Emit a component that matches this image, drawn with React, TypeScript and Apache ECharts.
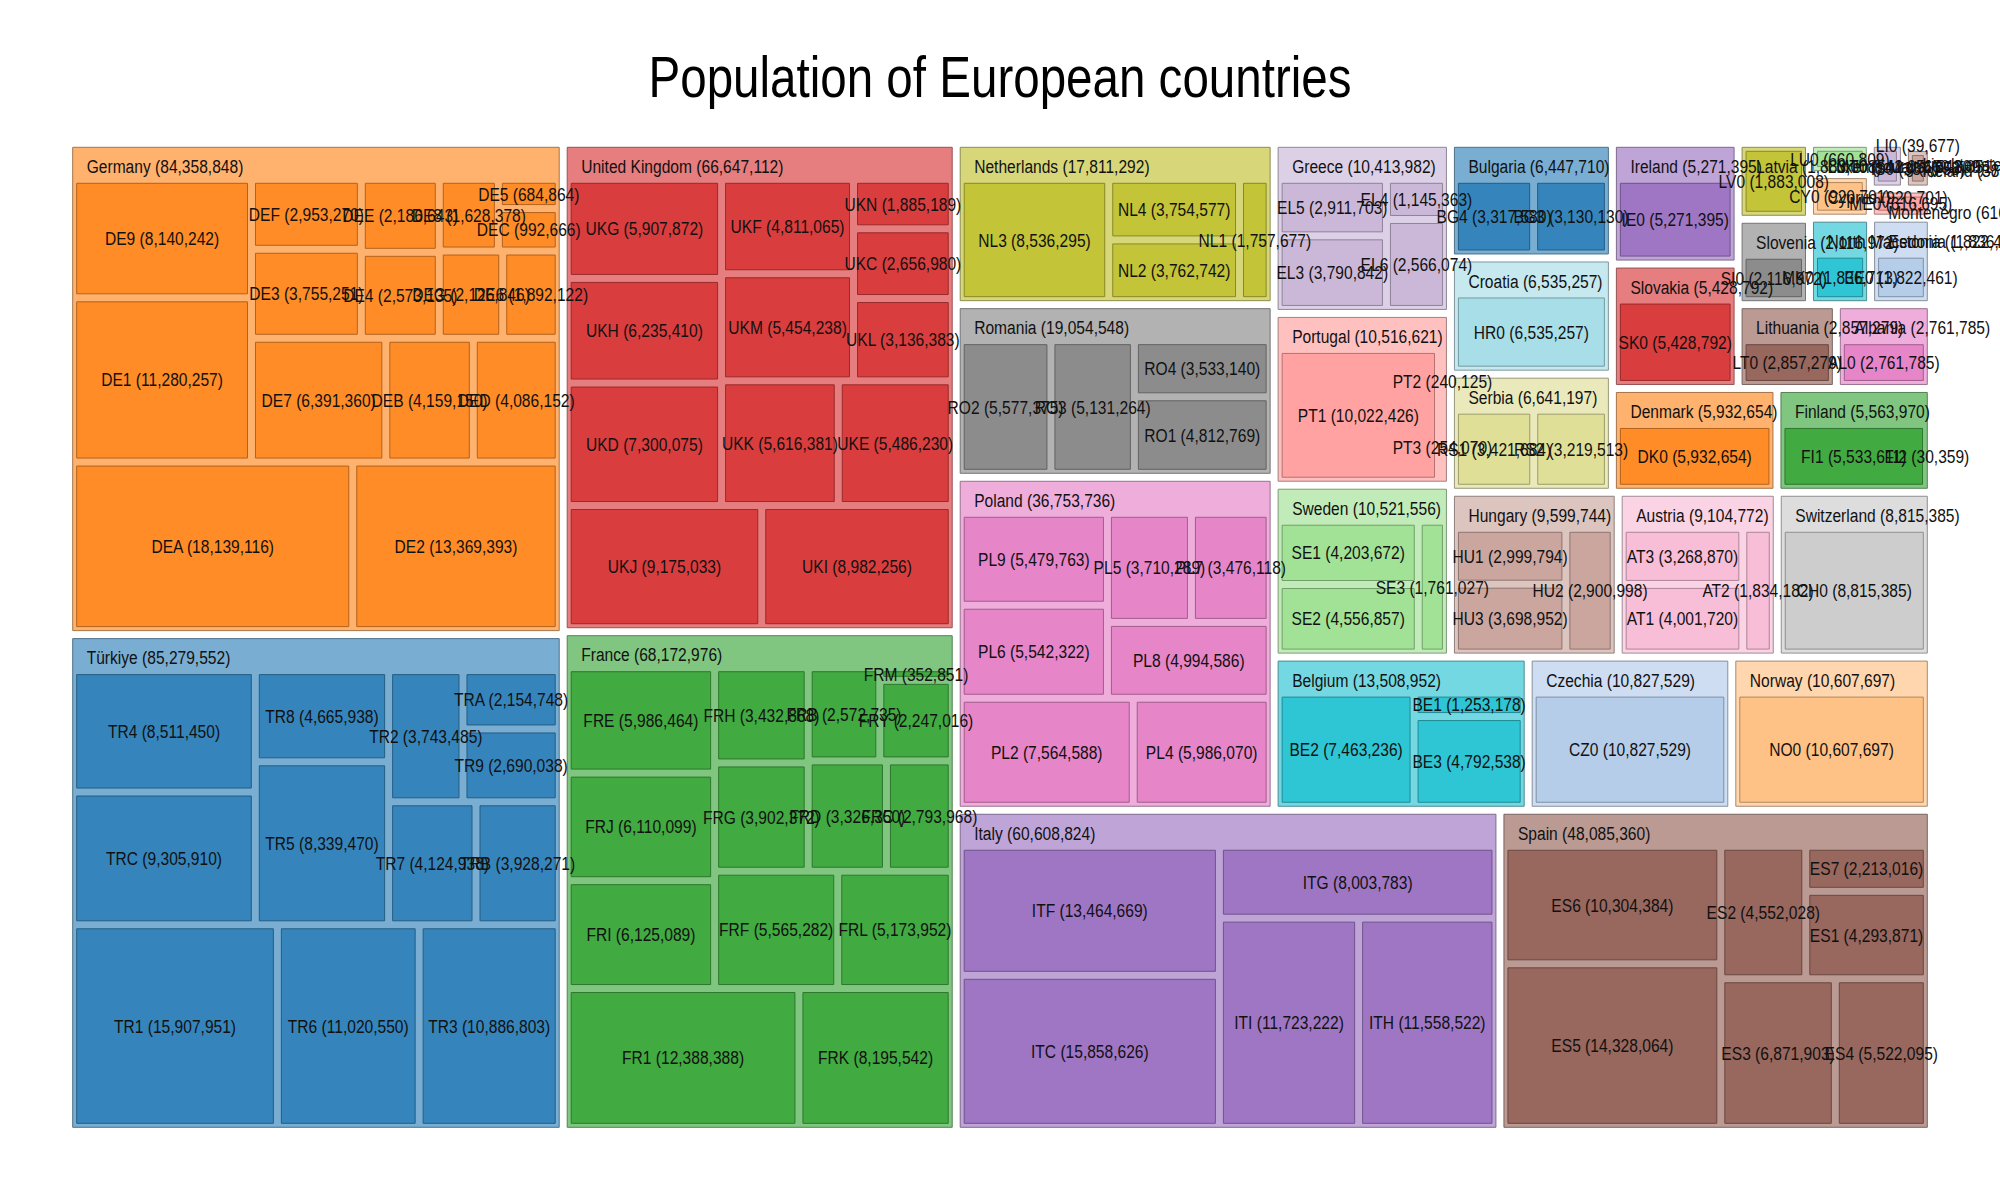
import React, { useEffect, useRef } from "react";
import * as echarts from "echarts";

// ---------------- DATA ----------------
const chartTitle = "Population of European countries";

const countryCodes = ["TR", "DE", "FR", "UK", "IT", "ES", "PL", "RO", "NL", "BE", "CZ", "NO", "SE", "PT", "EL", "HU", "AT", "CH", "RS", "HR", "BG", "DK", "FI", "SK", "IE", "LT", "AL", "SI", "LV", "MK", "EE", "CY", "LU", "ME", "MT", "IS", "LI"];
const countryNames = ["Türkiye", "Germany", "France", "United Kingdom", "Italy", "Spain", "Poland", "Romania", "Netherlands", "Belgium", "Czechia", "Norway", "Sweden", "Portugal", "Greece", "Hungary", "Austria", "Switzerland", "Serbia", "Croatia", "Bulgaria", "Denmark", "Finland", "Slovakia", "Ireland", "Lithuania", "Albania", "Slovenia", "Latvia", "North Macedonia", "Estonia", "Cyprus", "Luxembourg", "Montenegro", "Malta", "Iceland", "Liechtenstein"];
const countryPopulation = [85279552, 84358848, 68172976, 66647112, 60608824, 48085360, 36753736, 19054548, 17811292, 13508952, 10827529, 10607697, 10521556, 10516621, 10413982, 9599744, 9104772, 8815385, 6641197, 6535257, 6447710, 5932654, 5563970, 5428792, 5271395, 2857279, 2761785, 2116972, 1883008, 1836713, 1822461, 920701, 660809, 616695, 542051, 387758, 39677];

const regionCodes = [
  "TR1", "TR6", "TR3", "TRC", "TR4", "TR5", "TR8", "TR7", "TRB", "TR2", "TR9", "TRA",
  "DEA", "DE2", "DE1", "DE9", "DE7", "DEB", "DED", "DE3", "DEF", "DE4", "DEE", "DEG", "DE6", "DE8", "DEC", "DE5",
  "FR1", "FRK", "FRI", "FRJ", "FRE", "FRF", "FRL", "FRG", "FRH", "FRD", "FRC", "FRB", "FRY", "FRM",
  "UKJ", "UKI", "UKD", "UKH", "UKG", "UKK", "UKE", "UKM", "UKF", "UKL", "UKC", "UKN",
  "ITC", "ITF", "ITI", "ITH", "ITG",
  "ES5", "ES6", "ES3", "ES4", "ES2", "ES1", "ES7",
  "PL2", "PL4", "PL6", "PL9", "PL8", "PL5", "PL7",
  "RO2", "RO3", "RO1", "RO4",
  "NL3", "NL2", "NL4", "NL1",
  "BE2", "BE3", "BE1",
  "CZ0", "NO0",
  "SE2", "SE1", "SE3",
  "PT1", "PT3", "PT2",
  "EL3", "EL5", "EL6", "EL4",
  "HU3", "HU1", "HU2",
  "AT1", "AT3", "AT2",
  "CH0", "RS1", "RS2", "HR0", "BG4", "BG3", "DK0", "FI1", "FI2", "SK0", "IE0",
  "LT0", "AL0", "SI0", "LV0", "MK0", "EE0", "CY0", "LU0", "ME0", "MT0", "IS0", "LI0"
];
const regionPopulation = [
  15907951, 11020550, 10886803, 9305910, 8511450, 8339470, 4665938, 4124938, 3928271, 3743485, 2690038, 2154748,
  18139116, 13369393, 11280257, 8140242, 6391360, 4159150, 4086152, 3755251, 2953270, 2573135, 2186643, 2126846, 1892122, 1628378, 992666, 684864,
  12388388, 8195542, 6125089, 6110099, 5986464, 5565282, 5173952, 3902372, 3432868, 3326350, 2793968, 2572735, 2247016, 352851,
  9175033, 8982256, 7300075, 6235410, 5907872, 5616381, 5486230, 5454238, 4811065, 3136383, 2656980, 1885189,
  15858626, 13464669, 11723222, 11558522, 8003783,
  14328064, 10304384, 6871903, 5522095, 4552028, 4293871, 2213016,
  7564588, 5986070, 5542322, 5479763, 4994586, 3710289, 3476118,
  5577375, 5131264, 4812769, 3533140,
  8536295, 3762742, 3754577, 1757677,
  7463236, 4792538, 1253178,
  10827529, 10607697,
  4556857, 4203672, 1761027,
  10022426, 254070, 240125,
  3790842, 2911703, 2566074, 1145363,
  3698952, 2999794, 2900998,
  4001720, 3268870, 1834182,
  8815385, 3421684, 3219513, 6535257, 3317580, 3130130, 5932654, 5533611, 30359, 5428792, 5271395,
  2857279, 2761785, 2116972, 1883008, 1836713, 1822461, 920701, 660809, 616695, 542051, 387758, 39677
];

const palette = [
  "#1f77b4", "#ff7f0e", "#2ca02c", "#d62728", "#9467bd", "#8c564b", "#e377c2", "#7f7f7f", "#bcbd22", "#17becf",
  "#aec7e8", "#ffbb78", "#98df8a", "#ff9896", "#c5b0d5", "#c49c94", "#f7b6d2", "#c7c7c7", "#dbdb8d", "#9edae5"
];

// ---------------- LAYOUT SETTINGS ----------------
const PLOT = { left: 68.7, top: 143.3, width: 1862.6, height: 988 };
const STRETCH = 1.134; // layout space is taller than drawn space
const INSET = 4;
const HEADER = 32;
const HEADER_MIN = 72; // parents shorter than this get no header band
const FONT = "'Liberation Sans', Arial, sans-serif";
const CONDENSE = 0.82;
const LABEL_SIZE = 19;
const PARENT_ALPHA = 0.6;
const CHILD_ALPHA = 0.9;

type Box = { x: number; y: number; w: number; h: number };

function worst(row: number[], side: number): number {
  let s = 0, mx = 0, mn = Infinity;
  for (const a of row) { s += a; if (a > mx) mx = a; if (a < mn) mn = a; }
  const s2 = s * s, w2 = side * side;
  return Math.max((w2 * mx) / s2, s2 / (w2 * mn));
}

// squarified treemap, rows stacked from the bottom (y axis points up)
function squarify(values: number[], box: Box): Box[] {
  const total = values.reduce((a, b) => a + b, 0);
  const scale = total > 0 ? (box.w * box.h) / total : 0;
  const areas = values.map((v) => v * scale);
  const out: Box[] = [];
  let { x, y, w, h } = box;
  let i = 0;
  while (i < areas.length) {
    const horizontal = w < h;
    const side = horizontal ? w : h;
    const row = [areas[i]];
    let best = worst(row, side);
    let j = i + 1;
    while (j < areas.length) {
      row.push(areas[j]);
      const sc = worst(row, side);
      if (sc > best) { row.pop(); break; }
      best = sc; j++;
    }
    const rowSum = row.reduce((a, b) => a + b, 0);
    const last = j >= areas.length;
    if (horizontal) {
      const rh = last ? h : rowSum / w;
      let cx = x;
      for (const a of row) { const rw = rh > 0 ? a / rh : 0; out.push({ x: cx, y, w: rw, h: rh }); cx += rw; }
      y += rh; h -= rh;
    } else {
      const rw = last ? w : rowSum / h;
      let cy = y;
      for (const a of row) { const rr = rw > 0 ? a / rw : 0; out.push({ x, y: cy, w: rw, h: rr }); cy += rr; }
      x += rw; w -= rw;
    }
    i = j;
  }
  return out;
}

// shrink a cell by the padding; collapse to its centre line when too small
function inset(b: Box): Box {
  const ix = INSET, iy = INSET * STRETCH;
  let x = b.x + ix, w = b.w - 2 * ix, y = b.y + iy, h = b.h - 2 * iy;
  if (w < 0) { x = b.x + b.w / 2; w = 0; }
  if (h < 0) { y = b.y + b.h / 2; h = 0; }
  return { x, y, w, h };
}

function hexToRgb(hex: string): number[] {
  const n = parseInt(hex.slice(1), 16);
  return [(n >> 16) & 255, (n >> 8) & 255, n & 255];
}
function mix(a: number[], b: number[], t: number): number[] {
  return a.map((v, i) => v * (1 - t) + b[i] * t);
}
function rgb(c: number[]): string {
  return `rgb(${Math.round(c[0])},${Math.round(c[1])},${Math.round(c[2])})`;
}
const fmt = (v: number) => v.toLocaleString("en-US");

function buildOption() {
  const order = countryCodes.map((_, i) => i).sort((a, b) => countryPopulation[b] - countryPopulation[a]);
  const LH = PLOT.height * STRETCH;
  const cells = squarify(order.map((i) => countryPopulation[i]), { x: 0, y: 0, w: PLOT.width, h: LH });

  const rects: number[][] = [];
  const rectStyle: { fill: string; stroke: string }[] = [];
  const labelPts: number[][] = [];
  const labelInfo: { text: string; align: string; dx: number; dy: number }[] = [];
  const childRects: number[][] = [];
  const childStyle: { fill: string; stroke: string }[] = [];
  const childLabels: number[][] = [];
  const childInfo: { text: string; align: string; dx: number; dy: number }[] = [];

  const white = [255, 255, 255];
  const black = [0, 0, 0];

  order.forEach((ci, k) => {
    const base = hexToRgb(palette[k % palette.length]);
    const pFill = mix(white, base, PARENT_ALPHA);
    const cFill = mix(white, base, CHILD_ALPHA);
    const cell = cells[k];
    const d = inset(cell);
    if (d.w > 0 && d.h > 0) {
      rects.push([d.x, d.y, d.x + d.w, d.y + d.h]);
      rectStyle.push({ fill: rgb(pFill), stroke: rgb(mix(pFill, black, 0.35)) });
    }
    labelPts.push([d.x, d.y + d.h]);
    labelInfo.push({ text: `${countryNames[ci]} (${fmt(countryPopulation[ci])})`, align: "left", dx: 14, dy: 19 });

    const code = countryCodes[ci];
    const kids = regionCodes.map((c, i) => i).filter((i) => regionCodes[i].startsWith(code))
      .sort((a, b) => regionPopulation[b] - regionPopulation[a]);
    const withHeader = d.h / STRETCH >= HEADER_MIN;
    const region: Box = withHeader ? { x: d.x, y: d.y, w: d.w, h: d.h - HEADER * STRETCH } : d;
    const kc = squarify(kids.map((i) => regionPopulation[i]), region);
    kids.forEach((ri, m) => {
      const c = kc[m];
      const cd = inset(c);
      if (cd.w > 0 && cd.h > 0) {
        childRects.push([cd.x, cd.y, cd.x + cd.w, cd.y + cd.h]);
        childStyle.push({ fill: rgb(cFill), stroke: rgb(mix(cFill, black, 0.3)) });
      }
      childLabels.push([c.x + c.w / 2, c.y + c.h / 2]);
      childInfo.push({ text: `${regionCodes[ri]} (${fmt(regionPopulation[ri])})`, align: "center", dx: 0, dy: 0 });
    });
  });

  const allRects = rects.concat(childRects);
  const allStyle = rectStyle.concat(childStyle);
  const allLabelPts = labelPts.concat(childLabels);
  const allInfo = labelInfo.concat(childInfo);

  return {
    animation: false,
    backgroundColor: "#ffffff",
    grid: { left: PLOT.left, top: PLOT.top, width: PLOT.width, height: PLOT.height },
    xAxis: { type: "value", min: 0, max: PLOT.width, show: false },
    yAxis: { type: "value", min: 0, max: LH, show: false },
    graphic: [
      {
        type: "text",
        x: 1000,
        y: 77,
        scaleX: CONDENSE,
        style: { text: chartTitle, fill: "#000", fontSize: 58, fontFamily: FONT, align: "center", verticalAlign: "middle" },
      },
    ],
    series: [
      {
        type: "custom",
        name: "cells",
        coordinateSystem: "cartesian2d",
        z: 2,
        silent: true,
        data: allRects,
        renderItem: (params: any, api: any) => {
          const s = allStyle[params.dataIndex];
          const a = api.coord([api.value(0), api.value(3)]);
          const b = api.coord([api.value(2), api.value(1)]);
          return {
            type: "rect",
            shape: { x: a[0], y: a[1], width: b[0] - a[0], height: b[1] - a[1] },
            style: { fill: s.fill, stroke: s.stroke, lineWidth: 1 },
          };
        },
      },
      {
        type: "custom",
        name: "labels",
        coordinateSystem: "cartesian2d",
        z: 3,
        silent: true,
        data: allLabelPts,
        renderItem: (params: any, api: any) => {
          const L = allInfo[params.dataIndex];
          const p = api.coord([api.value(0), api.value(1)]);
          return {
            type: "text",
            x: p[0] + L.dx,
            y: p[1] + L.dy,
            scaleX: CONDENSE,
            style: { text: L.text, fill: "#111", fontSize: LABEL_SIZE, fontFamily: FONT, align: L.align, verticalAlign: "middle" },
          };
        },
      },
    ],
  };
}

export default function App() {
  const ref = useRef<HTMLDivElement>(null);
  useEffect(() => {
    document.body.style.margin = "0";
    const chart = echarts.init(ref.current as HTMLDivElement, null, { renderer: "svg" });
    chart.setOption(buildOption() as any);
    return () => chart.dispose();
  }, []);
  return <div ref={ref} style={{ width: 2000, height: 1200 }} />;
}
